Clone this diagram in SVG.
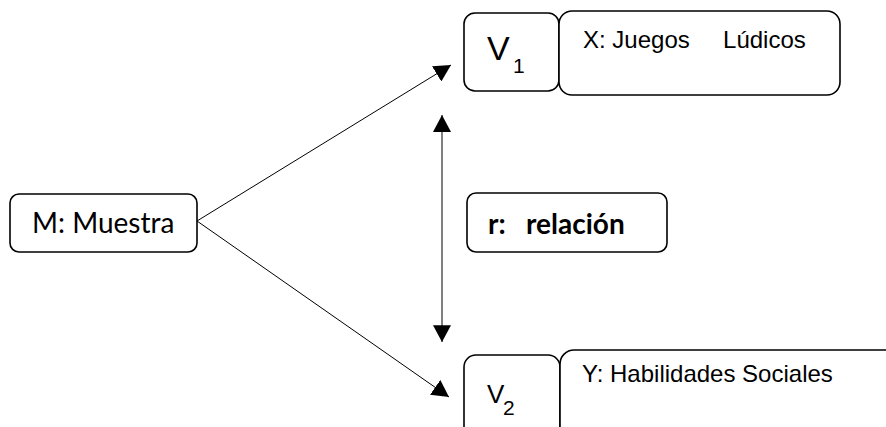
<svg xmlns="http://www.w3.org/2000/svg" width="886" height="427" viewBox="0 0 886 427">
<style>
.box{fill:#fff;stroke:#000;stroke-width:1.6}
.ln{stroke:#000;stroke-width:1;fill:none}
.lato{font-family:Lato,"Carlito","Liberation Sans",sans-serif;fill:#000}
.ar{font-family:"Liberation Sans",Arial,sans-serif;fill:#000}
</style>
<defs>
<marker id="ah" markerUnits="userSpaceOnUse" markerWidth="18" markerHeight="18" viewBox="0 0 16 16" refX="15" refY="8" orient="auto-start-reverse">
<path d="M0,0 L15,8 L0,16 Z" fill="#000"/>
</marker>
</defs>
<rect width="886" height="427" fill="#fff"/>
<g id="connectors">
<line class="ln" x1="197" y1="221" x2="451" y2="65" marker-end="url(#ah)"/>
<line class="ln" x1="197" y1="221" x2="449" y2="397" marker-end="url(#ah)"/>
<line class="ln" x1="442" y1="115" x2="442" y2="342" marker-start="url(#ah)" marker-end="url(#ah)"/>
</g>
<g id="m">
<rect class="box" x="10" y="194" width="187" height="58" rx="9"/>
<text class="lato" x="32" y="233" font-size="28">M: Muestra</text>
</g>
<g id="v1">
<rect class="box" x="464" y="13" width="95" height="78" rx="11"/>
<text class="ar" x="487" y="60" font-size="34">V</text>
<text class="ar" x="513" y="73" font-size="21">1</text>
</g>
<g id="x">
<rect class="box" x="559" y="11" width="281" height="84" rx="13"/>
<text class="ar" x="583" y="48" font-size="24" xml:space="preserve">X: Juegos     Lúdicos</text>
</g>
<g id="r">
<rect class="box" x="467" y="193" width="200" height="59" rx="9"/>
<text class="lato" x="488" y="234" font-size="28" font-weight="bold" xml:space="preserve">r:   relación</text>
</g>
<g id="v2">
<rect class="box" x="464" y="355" width="96" height="90" rx="12"/>
<text class="ar" x="487" y="403" font-size="26">V</text>
<text class="ar" x="503" y="415" font-size="21">2</text>
</g>
<g id="y">
<rect class="box" x="560" y="350" width="360" height="100" rx="14"/>
<text class="ar" x="582" y="382" font-size="24">Y: Habilidades Sociales</text>
</g>
</svg>
